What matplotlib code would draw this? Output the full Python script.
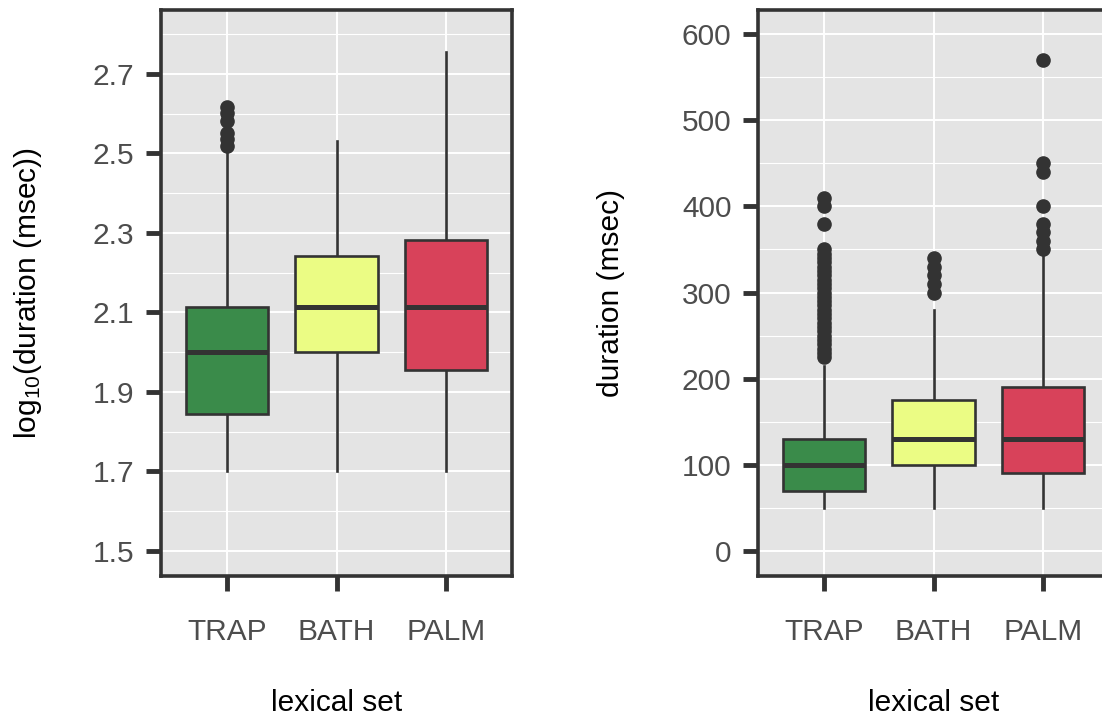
import matplotlib
matplotlib.use("Agg")
import matplotlib.pyplot as plt
from matplotlib.ticker import FixedLocator

plt.rcParams['font.family'] = ['Liberation Sans', 'DejaVu Sans']
plt.rcParams['mathtext.fontset'] = 'custom'
plt.rcParams['mathtext.rm'] = 'Liberation Sans'
plt.rcParams['mathtext.it'] = 'Liberation Sans'

# ---------------- data ----------------
categories = ["TRAP", "BATH", "PALM"]
colors = ["#3a8b4a", "#ebfc84", "#d8425a"]

# left panel: log10(duration)
log_whislo = [1.70, 1.70, 1.70]
log_q1 = [1.845, 2.000, 1.955]
log_med = [2.000, 2.114, 2.114]
log_q3 = [2.114, 2.243, 2.282]
log_whishi = [2.505, 2.531, 2.756]
log_fliers_trap = [2.519, 2.537, 2.552, 2.582, 2.602, 2.617]
log_fliers_bath = []
log_fliers_palm = []

# right panel: duration (msec)
dur_whislo = [50, 50, 50]
dur_q1 = [70, 100, 90]
dur_med = [100, 130, 130]
dur_q3 = [130, 175, 190]
dur_whishi = [215, 280, 342]
dur_fliers_trap = [225, 230, 235, 240, 245, 250, 255, 260, 265, 270, 275, 280,
                   285, 290, 295, 300, 305, 310, 315, 320, 325, 330, 335, 340,
                   345, 350, 380, 400, 410]
dur_fliers_bath = [300, 310, 320, 330, 340]
dur_fliers_palm = [350, 360, 370, 380, 400, 440, 450, 570]

W, H = 1102, 719
fig = plt.figure(figsize=(W / 100, H / 100), dpi=100)

ax1 = fig.add_axes([161 / W, 1 - 576 / H, 351 / W, 566 / H])
ax2 = fig.add_axes([758 / W, 1 - 576 / H, 351 / W, 566 / H])

DARK = "#333333"
FS = 21.5


def make_stats(whislo, q1, med, q3, whishi, fliers):
    out = []
    for i in range(len(categories)):
        out.append(dict(whislo=whislo[i], q1=q1[i], med=med[i], q3=q3[i],
                        whishi=whishi[i], fliers=fliers[i], label=categories[i]))
    return out


def draw(ax, stats, ylim, major, minor, ylabel, ylabelpad):
    ax.set_facecolor("#e4e4e4")
    bp = ax.bxp(stats, positions=[1, 2, 3], widths=0.75, patch_artist=True,
                showcaps=False, showfliers=True,
                boxprops=dict(edgecolor=DARK, linewidth=1.9),
                medianprops=dict(color=DARK, linewidth=3.6, solid_capstyle='butt'),
                whiskerprops=dict(color=DARK, linewidth=1.9),
                flierprops=dict(marker='o', markerfacecolor=DARK,
                                markeredgecolor=DARK, markersize=9.5))
    for patch, c in zip(bp['boxes'], colors):
        patch.set_facecolor(c)
    for b in bp['boxes']:
        b.set_zorder(3)
    for m in bp['medians']:
        m.set_zorder(4)
    ax.set_xlim(0.4, 3.6)
    ax.set_ylim(*ylim)
    ax.yaxis.set_major_locator(FixedLocator(major))
    ax.yaxis.set_minor_locator(FixedLocator(minor))
    ax.set_xticks([1, 2, 3])
    ax.set_xticklabels(categories)
    ax.grid(which='major', color='white', linewidth=1.4, zorder=0)
    ax.grid(which='minor', axis='y', color='white', linewidth=0.8, zorder=0)
    ax.set_axisbelow(True)
    ax.tick_params(which='major', length=11, width=3.5, color=DARK,
                   labelsize=FS, labelcolor="#4d4d4d", pad=8)
    ax.tick_params(axis='x', which='major', pad=19)
    ax.tick_params(which='minor', length=0)
    for s in ax.spines.values():
        s.set_color(DARK)
        s.set_linewidth(2.6)
    ax.set_xlabel("lexical set", fontsize=FS, color="black", labelpad=31)
    ax.set_ylabel(ylabel, fontsize=FS, color="black", labelpad=ylabelpad)


stats1 = make_stats(log_whislo, log_q1, log_med, log_q3, log_whishi,
                    [log_fliers_trap, log_fliers_bath, log_fliers_palm])
stats2 = make_stats(dur_whislo, dur_q1, dur_med, dur_q3, dur_whishi,
                    [dur_fliers_trap, dur_fliers_bath, dur_fliers_palm])

draw(ax1, stats1, (1.437, 2.861), [1.5, 1.7, 1.9, 2.1, 2.3, 2.5, 2.7],
     [1.6, 1.8, 2.0, 2.2, 2.4, 2.6, 2.8],
     r"log$_{\mathregular{10}}$(duration (msec))", 35)
ax1.set_yticklabels(["1.5", "1.7", "1.9", "2.1", "2.3", "2.5", "2.7"])
draw(ax2, stats2, (-29, 628), [0, 100, 200, 300, 400, 500, 600],
     [50, 150, 250, 350, 450, 550], "duration (msec)", 41)

fig.savefig("out.png", dpi=100)
